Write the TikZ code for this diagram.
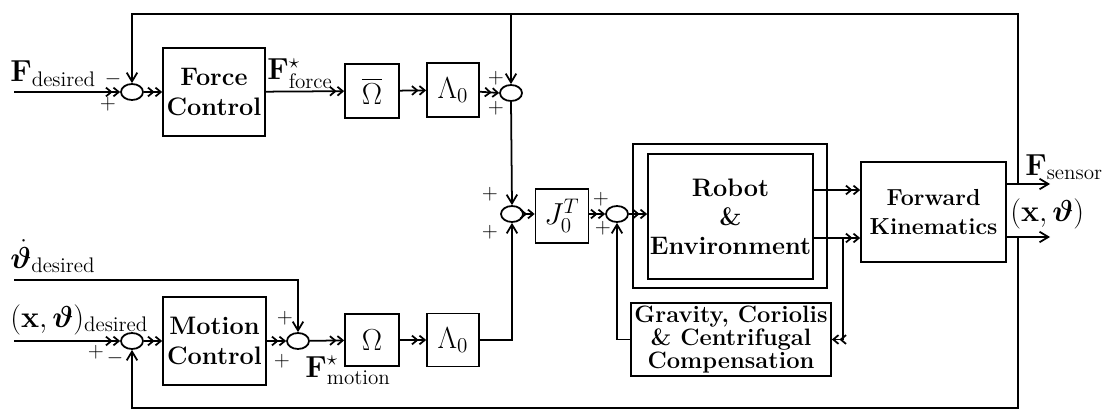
\documentclass[tikz,border=0pt]{standalone}
\usepackage{amsmath,bm}
\usetikzlibrary{arrows.meta,shapes.geometric}

\tikzset{
  blk/.style={draw, line width=1pt, align=center, font=\Large\bfseries, inner sep=1pt},
  sumj/.style={draw, line width=1pt, ellipse, minimum width=0.44cm, minimum height=0.32cm, inner sep=0pt},
  sgn/.style={font=\large, inner sep=0pt},
  lbl/.style={font=\LARGE, inner sep=0pt, anchor=base west},
  wire/.style={line width=1pt},
  sarr/.style={line width=1pt, -{Straight Barb[length=5pt,width=6pt]}},
  darr/.style={line width=1pt, -{Straight Barb[length=3pt,width=5pt]Straight Barb[length=3pt,width=5pt]}},
}

\begin{document}
\begin{tikzpicture}[x=0.02cm, y=-0.02cm]
  \useasboundingbox (0,0) rectangle (1111,412);

  % force loop
  \node[sumj] (sumF) at (132,92) {};
  \node[blk, minimum width=2.04cm, minimum height=1.76cm] (fc) at (214,92) {Force\\[-1pt]Control};
  \node[blk, font=\LARGE, minimum width=1.08cm, minimum height=1.08cm] (obar) at (372,91) {$\overline{\Omega}$};
  \node[blk, font=\LARGE, minimum width=1.04cm, minimum height=1.08cm] (lamF) at (453,90) {$\Lambda_0$};
  \node[sumj] (sumB) at (511,93) {};

  % motion loop
  \node[sumj] (sumM) at (132,341) {};
  \node[blk, minimum width=2.06cm, minimum height=1.76cm] (mc) at (214.5,341) {Motion\\[-1pt]Control};
  \node[sumj] (sumN) at (298,341) {};
  \node[blk, font=\LARGE, minimum width=1.08cm, minimum height=1.04cm] (om) at (372,340) {$\Omega$};
  \node[blk, font=\LARGE, minimum width=1.04cm, minimum height=1.06cm] (lamM) at (453,340) {$\Lambda_0$};

  % robot side
  \node[sumj] (sumC) at (512,214) {};
  \node[blk, font=\LARGE, minimum width=1.06cm, minimum height=1.08cm] (jt) at (562,216) {$J_0^T$};
  \node[sumj] (sumD) at (617,214) {};
  \node[blk, minimum width=3.88cm, minimum height=2.88cm] (robout) at (730,216) {};
  \node[blk, minimum width=3.3cm, minimum height=2.5cm] (rob) at (730.5,216.5) {Robot\\[-1.5pt]\&\\[-1.5pt]Environment};
  \node[blk, font=\fontsize{13.2}{16.4}\bfseries, minimum width=2.9cm, minimum height=2.0cm] (fk) at (933.5,212) {Forward\\Kinematics};
  \node[blk, font=\fontsize{13.5}{12}\bfseries, minimum width=4.0cm, minimum height=1.46cm] (grav) at (731,339.5) {Gravity, Coriolis\\\& Centrifugal\\Compensation};

  \coordinate (inF) at (14,92);
  \coordinate (inW) at (14,280);
  \coordinate (inX) at (14,341);
  \coordinate (rowA) at (0,190);
  \coordinate (rowB) at (0,238);
  \coordinate (tapF) at (1018,184);
  \coordinate (tapX) at (1018,237);
  \coordinate (topR) at (1018,14);
  \coordinate (botR) at (1018,408);
  \coordinate (tapG) at (843,238);
  \coordinate (fsens) at (1050,184);
  \coordinate (xout) at (1050,237);

  % signals
  \draw[darr] (inF) -- (sumF.west);
  \draw[darr] (sumF) -- (fc);
  \draw[darr] (fc) -- (obar);
  \draw[darr] (obar) -- (lamF);
  \draw[darr] (lamF) -- (sumB.west);
  \draw[sarr] (sumB.south) -- (sumC.north);
  \draw[darr] (inX) -- (sumM.west);
  \draw[darr] (sumM) -- (mc);
  \draw[darr] (mc) -- (sumN);
  \draw[darr] (sumN) -- (om);
  \draw[darr] (om) -- (lamM);
  \draw[sarr] (lamM.east) -| (sumC.south);
  \draw[sarr] (inW) -| (sumN.north);
  \draw[darr] (sumC) -- (jt.west |- sumC);
  \draw[darr] (jt.east |- sumD) -- (sumD.west);
  \draw[darr] (sumD) -- (rob.west |- sumD);
  \draw[darr] (rob.east |- rowA) -- (fk.west |- rowA);
  \draw[darr] (rob.east |- rowB) -- (fk.west |- rowB);
  \draw[darr] (tapG) |- (grav.east);
  \draw[sarr] (grav.west) -| (sumD.south);
  \draw[sarr] (fk.east |- fsens) -- (fsens);
  \draw[sarr] (fk.east |- xout) -- (xout);

  % feedback
  \draw[sarr] (tapF) -- (topR) -| (sumF.north);
  \draw[sarr] (sumB |- topR) -- (sumB.north);
  \draw[sarr] (tapX) -- (botR) -| (sumM.south);

  % labels
  \node[lbl] (lFdes) at (10,82) {$\mathbf{F}_{\text{desired}}$};
  \node[lbl] (lFf) at (267,80) {$\mathbf{F}^{\star}_{\text{force}}$};
  \node[lbl] (lWdes) at (10,268) {$\dot{\bm{\vartheta}}_{\text{desired}}$};
  \node[lbl] (lXdes) at (10,327) {$(\mathbf{x},\bm{\vartheta})_{\text{desired}}$};
  \node[lbl] (lFm) at (305,377) {$\mathbf{F}^{\star}_{\text{motion}}$};
  \node[lbl] (lFs) at (1025,175) {$\mathbf{F}_{\text{sensor}}$};
  \node[lbl] (lX) at (1010,221) {$(\mathbf{x},\bm{\vartheta})$};

  \node[sgn] (s1) at (113,79) {$-$};
  \node[sgn] (s2) at (108,104) {$+$};
  \node[sgn] (s3) at (496,78) {$+$};
  \node[sgn] (s4) at (496,108) {$+$};
  \node[sgn] (s5) at (490,194) {$+$};
  \node[sgn] (s6) at (490,232) {$+$};
  \node[sgn] (s7) at (601,199) {$+$};
  \node[sgn] (s8) at (603,228) {$+$};
  \node[sgn] (s9) at (96,352) {$+$};
  \node[sgn] (s10) at (115,358) {$-$};
  \node[sgn] (s11) at (285,318) {$+$};
  \node[sgn] (s12) at (282,361) {$+$};
\end{tikzpicture}
\end{document}
